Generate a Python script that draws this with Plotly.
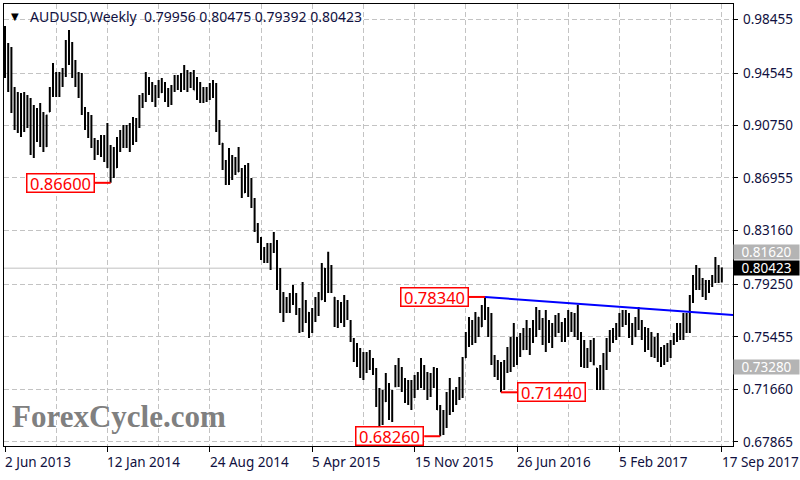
import pandas as pd
import plotly.graph_objects as go

# ---------------- data (AUDUSD weekly) ----------------
first_week = "2013-06-02"

opens = [
    .9570, .9560, .9560, .9240, .9130, .9050, .9140, .9200, .9250, .8930,
    .9170, .9160, .9060, .8925, .9175, .9330, .9400, .9330, .9430, .9450,
    .9660, .9540, .9450, .9360, .9350, .9170, .9100, .9090, .8960, .8900,
    .8890, .8940, .8930, .8780, .8720, .8770, .8960, .9020, .8990, .8940,
    .9080, .9000, .9110, .9270, .9290, .9410, .9340, .9290, .9330, .9315,
    .9330, .9270, .9290, .9350, .9410, .9370, .9420, .9380, .9400, .9430,
    .9330, .9290, .9270, .9320, .9290, .9350, .9330, .9050, .8945, .8770,
    .8760, .8770, .8800, .8740, .8760, .8590, .8700, .8600, .8500, .8320,
    .8250, .8140, .8180, .8110, .8170, .8220, .7920, .7780, .7800, .7750,
    .7810, .7800, .7720, .7650, .7700, .7720, .7600, .7720, .7780, .7815,
    .8040, .7870, .7960, .7830, .7640, .7730, .7710, .7770, .7660, .7530,
    .7390, .7420, .7270, .7380, .7320, .7330, .7300, .7120, .7000, .7080,
    .7140, .7000, .7190, .7300, .7310, .7170, .7100, .7140, .7110, .7230,
    .7210, .7210, .7180, .7230, .7200, .7280, .7020, .6850, .7000, .7100,
    .7050, .7100, .7140, .7170, .7395, .7530, .7650, .7520, .7685, .7620,
    .7720, .7710, .7610, .7360, .7280, .7250, .7230, .7340, .7440, .7380,
    .7400, .7510, .7455, .7560, .7500, .7590, .7620, .7680, .7650, .7600,
    .7560, .7540, .7620, .7650, .7600, .7580, .7650, .7690, .7620, .7600,
    .7540, .7440, .7370, .7430, .7380, .7318, .7180, .7220, .7380, .7470,
    .7580, .7540, .7620, .7670, .7690, .7670, .7550, .7550, .7660, .7650,
    .7580, .7470, .7560, .7420, .7520, .7390, .7380, .7460, .7420, .7510,
    .7560, .7600, .7550, .7680, .7620, .7800, .7930, .7960, .7900, .7880,
    .7930, .7920, .7980, .8010, .79956,
]

highs = [
    .9795, .9672, .9643, .9353, .9317, .9310, .9317, .9296, .9274, .9223,
    .9201, .9238, .9173, .9151, .9353, .9527, .9462, .9462, .9491, .9694,
    .9766, .9679, .9549, .9462, .9455, .9209, .9173, .9151, .8984, .8970,
    .9006, .9006, .9093, .8934, .8919, .8992, .9042, .9078, .9078, .9093,
    .9136, .9129, .9296, .9310, .9462, .9426, .9390, .9368, .9404, .9418,
    .9390, .9346, .9368, .9440, .9440, .9455, .9513, .9476, .9462, .9476,
    .9426, .9390, .9353, .9353, .9382, .9404, .9382, .9115, .8948, .8825,
    .8912, .8861, .8847, .8919, .8767, .8789, .8803, .8695, .8550, .8369,
    .8268, .8195, .8224, .8224, .8304, .8246, .8044, .7870, .7834, .7863,
    .7920, .7863, .7754, .7942, .7812, .7725, .7754, .7834, .7870, .8080,
    .8044, .8162, .8065, .7834, .7812, .7797, .7848, .7812, .7667, .7537,
    .7501, .7464, .7436, .7436, .7450, .7392, .7320, .7175, .7160, .7284,
    .7211, .7160, .7341, .7392, .7327, .7247, .7233, .7233, .7269, .7291,
    .7392, .7341, .7291, .7284, .7327, .7320, .7052, .7016, .7146, .7247,
    .7160, .7182, .7255, .7399, .7580, .7689, .7667, .7725, .7689, .7776,
    .7834, .7761, .7718, .7414, .7378, .7363, .7378, .7472, .7544, .7645,
    .7544, .7573, .7609, .7667, .7609, .7667, .7761, .7740, .7682, .7740,
    .7667, .7645, .7703, .7718, .7653, .7682, .7740, .7725, .7718, .7778,
    .7580, .7522, .7464, .7522, .7537, .7320, .7341, .7428, .7537, .7595,
    .7609, .7645, .7718, .7740, .7740, .7718, .7645, .7689, .7761, .7667,
    .7617, .7609, .7580, .7544, .7573, .7472, .7486, .7501, .7522, .7573,
    .7645, .7645, .7718, .7718, .7848, .7993, .8065, .8044, .7971, .7957,
    .7957, .7993, .8123, .8065, .80475,
]

lows = [
    .9418, .9317, .9165, .9042, .9020, .8992, .9028, .9057, .8861, .8840,
    .8955, .8919, .8883, .8919, .9173, .9281, .9281, .9281, .9353, .9426,
    .9513, .9418, .9353, .9274, .9151, .9042, .8984, .8912, .8825, .8861,
    .8847, .8811, .8767, .8660, .8695, .8767, .8883, .8912, .8912, .8883,
    .8934, .8955, .9057, .9201, .9245, .9296, .9245, .9209, .9274, .9310,
    .9245, .9209, .9223, .9317, .9332, .9317, .9332, .9317, .9346, .9332,
    .9259, .9238, .9238, .9245, .9259, .9274, .9028, .8934, .8753, .8644,
    .8644, .8680, .8717, .8738, .8550, .8586, .8557, .8478, .8304, .8224,
    .8101, .8080, .8080, .8029, .8152, .7884, .7718, .7653, .7718, .7718,
    .7776, .7703, .7573, .7580, .7645, .7537, .7573, .7653, .7696, .7812,
    .7797, .7863, .7863, .7617, .7609, .7645, .7617, .7667, .7508, .7363,
    .7327, .7247, .7233, .7284, .7305, .7269, .7038, .6893, .6907, .7074,
    .6943, .6929, .7180, .7182, .7146, .7067, .7052, .7016, .7103, .7160,
    .7175, .7160, .7088, .7110, .7175, .7016, .6826, .6835, .6886, .6980,
    .7001, .7052, .7088, .7103, .7392, .7472, .7486, .7501, .7544, .7617,
    .7667, .7544, .7341, .7255, .7233, .7144, .7160, .7284, .7291, .7327,
    .7341, .7399, .7450, .7450, .7414, .7501, .7544, .7595, .7486, .7436,
    .7501, .7464, .7544, .7573, .7508, .7508, .7544, .7580, .7544, .7522,
    .7327, .7320, .7320, .7363, .7340, .7160, .7160, .7160, .7305, .7436,
    .7501, .7522, .7544, .7617, .7631, .7537, .7486, .7544, .7595, .7522,
    .7436, .7450, .7399, .7392, .7363, .7328, .7341, .7363, .7392, .7486,
    .7508, .7522, .7522, .7573, .7573, .7790, .7884, .7884, .7834, .7812,
    .7863, .7906, .7935, .7935, .79392,
]

closes = [
    .9560, .9560, .9240, .9130, .9050, .9140, .9200, .9250, .8930, .9170,
    .9160, .9060, .8910, .9150, .9330, .9400, .9330, .9430, .9450, .9660,
    .9540, .9450, .9360, .9350, .9170, .9100, .9090, .8960, .8900, .8890,
    .8940, .8930, .8780, .8720, .8750, .8960, .9020, .8990, .8940, .9080,
    .9000, .9110, .9270, .9290, .9410, .9340, .9290, .9330, .9300, .9330,
    .9270, .9290, .9350, .9410, .9370, .9420, .9380, .9400, .9430, .9330,
    .9290, .9270, .9320, .9290, .9350, .9330, .9050, .8950, .8770, .8760,
    .8770, .8800, .8740, .8760, .8580, .8700, .8600, .8500, .8320, .8250,
    .8140, .8180, .8110, .8170, .8220, .7920, .7780, .7800, .7750, .7810,
    .7800, .7720, .7650, .7700, .7740, .7600, .7720, .7780, .7800, .8060,
    .7860, .7960, .7880, .7640, .7730, .7710, .7770, .7710, .7590, .7390,
    .7420, .7270, .7380, .7320, .7330, .7300, .7120, .7000, .7050, .7140,
    .7000, .7010, .7300, .7310, .7170, .7100, .7140, .7040, .7230, .7210,
    .7210, .7180, .7230, .7200, .7280, .7020, .6850, .7000, .7100, .7050,
    .7100, .7140, .7170, .7380, .7530, .7650, .7520, .7690, .7600, .7720,
    .7710, .7610, .7360, .7280, .7250, .7230, .7340, .7440, .7380, .7400,
    .7510, .7440, .7560, .7500, .7590, .7620, .7680, .7650, .7600, .7560,
    .7540, .7620, .7650, .7600, .7580, .7650, .7690, .7620, .7600, .7540,
    .7440, .7370, .7430, .7380, .7345, .7180, .7220, .7380, .7470, .7580,
    .7540, .7620, .7670, .7690, .7670, .7550, .7520, .7660, .7650, .7580,
    .7470, .7560, .7420, .7520, .7390, .7380, .7460, .7420, .7510, .7560,
    .7600, .7550, .7680, .7620, .7800, .7930, .7960, .7900, .7880, .7930,
    .7920, .7980, .8010, .7996, .80423,
]

price_ticks = [0.98455, 0.94545, 0.90750, 0.86955, 0.83160,
               0.79250, 0.75455, 0.71660, 0.67865]
last_price = 0.80423
level_tags = [0.81620, 0.73280]

# swing labels: (bar index, price, side of bar where the box sits)
swing_bars = [33, 136, 150, 155]
swing_prices = [0.86600, 0.68260, 0.78340, 0.71440]
swing_sides = ["left", "left", "left", "right"]

# resistance trend line anchors (bar index, price)
trend_bars = [150, 179]
trend_prices = [0.78340, 0.77850]

# ---------------- layout constants ----------------
W, H = 800, 480
ML, MR, MT, MB = 4, 67, 4, 34
X_RANGE = [-0.3125, 227.5]
Y_RANGE = [0.67554, 0.99541]
PLOT_W = W - ML - MR
PLOT_H = H - MT - MB
PX_PER_BAR = PLOT_W / (X_RANGE[1] - X_RANGE[0])

FONT = "Noto Sans"
GRID = "#c3c3c3"
DASH = "5px,3px"
TXT = "#101040"
AX_SIZE = 13.5

n = len(closes)
idx = list(range(n))
weeks = pd.date_range(first_week, periods=n, freq="7D")
label_idx = list(range(0, n, 32))
minor_idx = list(range(16, n, 32))


def paper_y(px):
    """pixel row (from top of the figure) -> paper coordinate"""
    return (H - MB - px) / PLOT_H


def paper_x(px):
    return (px - ML) / PLOT_W


fig = go.Figure()
fig.add_trace(go.Ohlc(
    x=idx, open=opens, high=highs, low=lows, close=closes,
    increasing=dict(line=dict(color="black", width=2)),
    decreasing=dict(line=dict(color="black", width=2)),
    tickwidth=0.2, showlegend=False, hoverinfo="skip",
))

shapes = []
# current bid line
shapes.append(dict(type="line", xref="paper", yref="y", x0=0, x1=1,
                   y0=last_price, y1=last_price, layer="below",
                   line=dict(color="#c0c0c0", width=1)))
# trend ray extended to the right edge
slope = (trend_prices[1] - trend_prices[0]) / (trend_bars[1] - trend_bars[0])
x_end = X_RANGE[1]
shapes.append(dict(type="line", xref="x", yref="y",
                   x0=trend_bars[0], y0=trend_prices[0],
                   x1=x_end, y1=trend_prices[0] + slope * (x_end - trend_bars[0]),
                   line=dict(color="#0000ff", width=2)))

annotations = []
GAP_PX = 16
for b, p, side in zip(swing_bars, swing_prices, swing_sides):
    sign = -1 if side == "left" else 1
    shapes.append(dict(type="line", xref="x", yref="y",
                       x0=b, x1=b + sign * GAP_PX / PX_PER_BAR, y0=p, y1=p,
                       line=dict(color="#ff0000", width=2)))
    annotations.append(dict(
        x=b, y=p, xref="x", yref="y", showarrow=False,
        xanchor="right" if side == "left" else "left", yanchor="middle",
        xshift=sign * GAP_PX, text=f"{p:.5f}",
        font=dict(family=FONT, size=16.5, color="#ff0000"),
        bgcolor="white", bordercolor="#ff0000", borderwidth=1.5, borderpad=0,
        width=66, height=17, align="center"))

# right price-axis labels
for v in price_ticks:
    annotations.append(dict(
        x=1, y=v, xref="paper", yref="y", showarrow=False,
        xanchor="left", yanchor="middle", xshift=8, text=f"{v:.5f}",
        font=dict(family=FONT, size=AX_SIZE, color=TXT)))

# right axis highlighted tags
for p in level_tags:
    annotations.append(dict(
        x=1, y=p, xref="paper", yref="y", showarrow=False,
        xanchor="left", yanchor="middle", text=f"{p:.5f}",
        font=dict(family=FONT, size=AX_SIZE, color="white"),
        bgcolor="#b4b4b4", borderpad=0, width=65, height=14, align="center"))
annotations.append(dict(
    x=1, y=last_price, xref="paper", yref="y", showarrow=False,
    xanchor="left", yanchor="middle", text=f"{last_price:.5f}",
    font=dict(family=FONT, size=AX_SIZE, color="white"),
    bgcolor="black", borderpad=0, width=65, height=14, align="center"))

# date labels (left-aligned at their ticks)
for i in label_idx:
    d = weeks[i]
    annotations.append(dict(
        x=i, y=paper_y(462), xref="x", yref="paper", showarrow=False,
        xanchor="left", yanchor="middle", xshift=-2,
        text=f"{d.day} {d.strftime('%b %Y')}",
        font=dict(family=FONT, size=AX_SIZE, color=TXT)))

# title
title_txt = ("AUDUSD,Weekly\u00a0\u00a0"
             f"{opens[-1]:.5f} {highs[-1]:.5f} {lows[-1]:.5f} {closes[-1]:.5f}")
annotations.append(dict(
    x=paper_x(28), y=paper_y(16), xref="paper", yref="paper",
    showarrow=False, xanchor="left", yanchor="middle", text=title_txt,
    font=dict(family=FONT, size=14, color=TXT)))
annotations.append(dict(
    x=paper_x(15), y=paper_y(16), xref="paper", yref="paper",
    showarrow=False, xanchor="center", yanchor="middle", text="\u25BC",
    font=dict(family="DejaVu Sans", size=10, color="black")))

# watermark
annotations.append(dict(
    x=paper_x(10), y=paper_y(416), xref="paper", yref="paper",
    showarrow=False, xanchor="left", yanchor="middle", text="ForexCycle.com",
    font=dict(family="Liberation Serif", size=31, color="#808080", weight="bold")))

fig.update_layout(
    width=W, height=H,
    margin=dict(l=ML, r=MR, t=MT, b=MB, pad=0, autoexpand=False),
    paper_bgcolor="white", plot_bgcolor="white",
    font=dict(family=FONT, size=14, color="black"),
    shapes=shapes, annotations=annotations,
    xaxis=dict(
        range=X_RANGE, tickmode="array", tickvals=label_idx,
        showticklabels=False, ticks="outside", ticklen=5, tickcolor="black",
        showgrid=True, gridcolor=GRID, griddash=DASH, gridwidth=1,
        minor=dict(tickvals=minor_idx, showgrid=True, gridcolor=GRID,
                   griddash=DASH, ticks=""),
        showline=True, linecolor="black", linewidth=1, mirror=True,
        zeroline=False, rangeslider=dict(visible=False), fixedrange=True,
    ),
    yaxis=dict(
        side="right", range=Y_RANGE, tickmode="array", tickvals=price_ticks,
        showticklabels=False, ticks="outside", ticklen=4, tickcolor="black",
        showgrid=True, gridcolor=GRID, griddash=DASH, gridwidth=1,
        showline=True, linecolor="black", linewidth=1, mirror=True,
        zeroline=False, fixedrange=True,
    ),
)

fig.write_html(
    "out.html",
    config={"displayModeBar": False},
    post_script="document.body.style.margin='0px';document.body.style.overflow='hidden';",
)
